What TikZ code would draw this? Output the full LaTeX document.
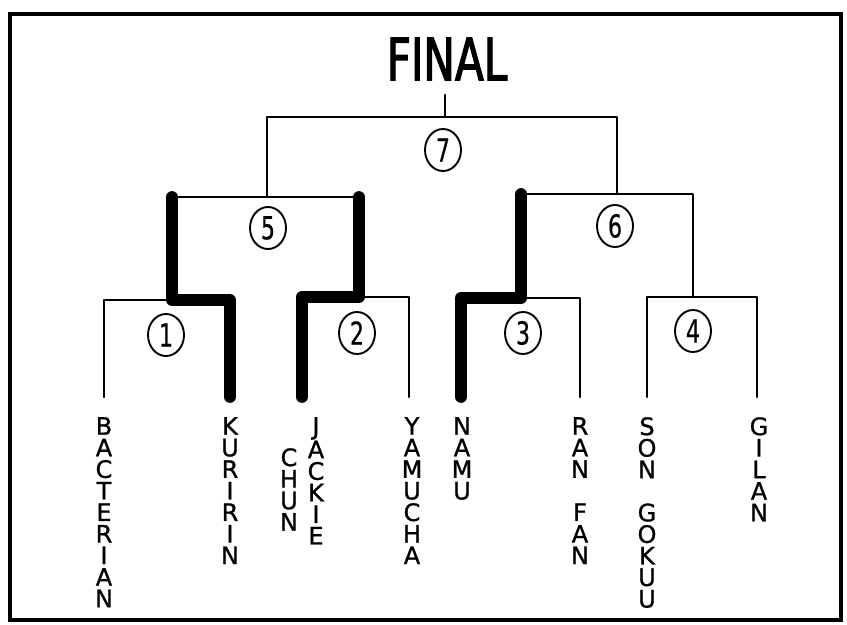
\documentclass[tikz,border=0pt]{standalone}
\usepackage{fontspec}
\usetikzlibrary{shapes.geometric,positioning}
\newfontfamily\letterfont[FakeBold=1]{DejaVu Sans}
\newfontfamily\titlefont[FakeStretch=0.72,FakeBold=2]{DejaVu Sans}
\newfontfamily\seedfont[FakeStretch=0.7,FakeBold=0.5]{DejaVu Sans}

\begin{document}
\begin{tikzpicture}[x=0.03cm, y=-0.03cm,
    bracket/.style={line width=2.1pt, line cap=round, line join=round},
    winner/.style={line width=10pt, line cap=round, line join=round},
    seed/.style={draw, ellipse, line width=1.6pt, minimum width=1.08cm, minimum height=1.26cm, inner sep=0pt, font=\seedfont\fontsize{27}{27}\selectfont},
    fighter/.style={anchor=north, inner sep=0pt, align=center, font=\letterfont\fontsize{20.5}{18.4}\selectfont}]
    \useasboundingbox (0,0) rectangle (847,625);
    % Frame
    \draw[line width=3.5pt] (10,14) rectangle (841,620);

    \node[inner sep=0pt, font=\titlefont\fontsize{50}{50}\selectfont] (final) at (447,59) {FINAL};

    % Junctions of the bracket
    \coordinate (top) at (445,95);
    \coordinate (m7) at (445,117);
    \coordinate (m5) at (267,197);
    \coordinate (m6) at (617,194);
    \coordinate (m1) at (172,300);
    \coordinate (m2) at (359,297);
    \coordinate (m3) at (521,298);
    \coordinate (m4) at (693,297);
    \coordinate (l1) at (104,397);
    \coordinate (l2) at (230,397);
    \coordinate (l3) at (302,397);
    \coordinate (l4) at (409,397);
    \coordinate (l5) at (461,397);
    \coordinate (l6) at (580,397);
    \coordinate (l7) at (647,397);
    \coordinate (l8) at (757,397);

    % Fighters
    \node[fighter] (bacterian) at (104,417) {B\\A\\C\\T\\E\\R\\I\\A\\N};
    \node[fighter] (kuririn) at (230,417) {K\\U\\R\\I\\R\\I\\N};
    \node[fighter] (chun) at (289,448) {C\\H\\U\\N};
    \node[fighter] (jackie) at (316,417) {J\\A\\C\\K\\I\\E};
    \node[fighter] (yamucha) at (412,417) {Y\\A\\M\\U\\C\\H\\A};
    \node[fighter] (namu) at (462,417) {N\\A\\M\\U};
    \node[fighter] (ranfan) at (580,417) {R\\A\\N\\\mbox{}\\F\\A\\N};
    \node[fighter] (songokuu) at (647,417) {S\\O\\N\\\mbox{}\\G\\O\\K\\U\\U};
    \node[fighter] (gilan) at (759,417) {G\\I\\L\\A\\N};

    % Match numbers
    \node[seed] (s1) at (166,335) {1};
    \node[seed] (s2) at (357,333) {2};
    \node[seed] (s3) at (523,333) {3};
    \node[seed] (s4) at (693,331) {4};
    \node[seed] (s5) at (268,228) {5};
    \node[seed] (s6) at (615,226) {6};
    \node[seed] (s7) at (443,150) {7};

    % Thin bracket lines
    \draw[bracket] (l1) |- (m1) -| (l2);
    \draw[bracket] (l3) |- (m2) -| (l4);
    \draw[bracket] (l5) |- (m3) -| (l6);
    \draw[bracket] (l7) |- (m4) -| (l8);
    \draw[bracket] (m1) |- (m5) -| (m2);
    \draw[bracket] (m3) |- (m6) -| (m4);
    \draw[bracket] (m5) |- (m7) -| (m6);
    \draw[bracket] (m7) -- (top);

    % Thick lines of the winners
    \draw[winner] (l2) |- (m1) -- (m1 |- m5);
    \draw[winner] (l3) |- (m2) -- (m2 |- m5);
    \draw[winner] (l5) |- (m3) -- (m3 |- m6);
\end{tikzpicture}
\end{document}
